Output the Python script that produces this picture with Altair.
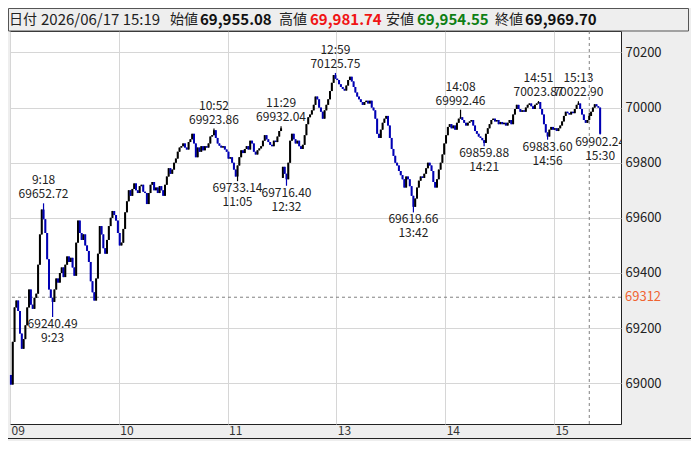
import altair as alt
import pandas as pd

FONT = "Noto Sans CJK JP"
UP_COLOR = "#000000"
DOWN_COLOR = "#0000b4"

# crosshair / header values (15:19 candle)
head_date = "2026/06/17"
head_time = "15:19"
head_open = 69955.08
head_high = 69981.74
head_low = 69954.55
head_close = 69969.70
cross_price = 69312

# session opening prices
am_open = 69030.0
pm_open = 69745.0

# 1-minute closes
closes_09 = [68995, 69150, 69275, 69300, 69262, 69180, 69125, 69160, 69210, 69275,
             69340, 69285, 69270, 69310, 69325, 69430, 69540, 69630, 69595, 69545,
             69450, 69340, 69310, 69295, 69340, 69380, 69365, 69400, 69420, 69385,
             69430, 69460, 69440, 69455, 69420, 69390, 69510, 69590, 69545, 69520,
             69540, 69500, 69480, 69440, 69370, 69330, 69300, 69380, 69470, 69570,
             69540, 69490, 69470, 69520, 69570, 69600, 69625, 69610, 69590, 69545]
closes_10 = [69500, 69510, 69560, 69620, 69660, 69700, 69680, 69705, 69725, 69700,
             69690, 69715, 69720, 69695, 69690, 69650, 69690, 69720, 69730, 69700,
             69710, 69690, 69715, 69700, 69680, 69720, 69750, 69780, 69760, 69775,
             69800, 69815, 69840, 69855, 69860, 69870, 69855, 69848, 69875, 69885,
             69905, 69870, 69820, 69855, 69840, 69860, 69845, 69860, 69855, 69870,
             69895, 69900, 69918, 69890, 69870, 69862, 69855, 69860, 69848, 69840]
closes_11 = [69815, 69820, 69800, 69775, 69750, 69790, 69820, 69845, 69835, 69850,
             69860, 69848, 69880, 69870, 69840, 69830, 69845, 69852, 69860, 69880,
             69900, 69885, 69875, 69865, 69860, 69880, 69875, 69895, 69915, 69925]
closes_12 = [69785, 69760, 69740, 69800, 69880, 69905, 69885, 69870, 69880, 69860,
             69850, 69865, 69900, 69940, 69965, 69975, 69990, 70010, 70040, 70030,
             70000, 69985, 69960, 69990, 70010, 70030, 70060, 70090, 70118, 70105]
closes_13 = [70100, 70085, 70075, 70068, 70062, 70080, 70100, 70112, 70095, 70075,
             70055, 70040, 70030, 70020, 70010, 70020, 70025, 70015, 70025, 70000,
             69990, 69960, 69905, 69890, 69920, 69945, 69960, 69970, 69935, 69890,
             69850, 69825, 69800, 69790, 69770, 69755, 69740, 69710, 69750, 69740,
             69715, 69680, 69640, 69670, 69710, 69735, 69750, 69745, 69760, 69780,
             69800, 69790, 69770, 69730, 69710, 69740, 69775, 69800, 69830, 69870]
closes_14 = [69900, 69930, 69940, 69925, 69935, 69920, 69945, 69960, 69965, 69955,
             69945, 69935, 69945, 69950, 69955, 69935, 69915, 69905, 69895, 69890,
             69882, 69872, 69905, 69925, 69940, 69955, 69960, 69950, 69955, 69940,
             69948, 69940, 69945, 69935, 69945, 69955, 69940, 69975, 69995, 70010,
             69995, 69985, 69990, 69985, 70000, 70010, 70015, 70005, 69995, 70010,
             70015, 70020, 69995, 69975, 69940, 69910, 69895, 69920, 69930, 69920]
closes_15 = [69925, 69915, 69925, 69935, 69950, 69970, 69985, 69980, 69975, 69985,
             69980, 69995, 70010, 70015, 69995, 69975, 69955, 69945, 69955.08, 69969.70,
             69985, 70000, 70012, 70005, 70000]
closes_1530 = [69905]

# labelled session highs / lows
hi_times = ["9:18", "10:52", "11:29", "12:59", "14:08", "14:51", "15:13"]
hi_prices = [69652.72, 69923.86, 69932.04, 70125.75, 69992.46, 70023.87, 70022.90]
lo_times = ["9:23", "11:05", "12:32", "13:42", "14:21", "14:56", "15:30"]
lo_prices = [69240.49, 69733.14, 69716.40, 69619.66, 69859.88, 69883.60, 69902.24]

price_ticks = [69000, 69200, 69400, 69600, 69800, 70000, 70200]
hour_names = ["10:00", "11:00", "13:00", "14:00", "15:00"]
hour_labels = ["09", "10", "11", "13", "14", "15"]


def minutes(h, m, n):
    out = []
    for k in range(n):
        t = h * 60 + m + k
        out.append(f"{t // 60}:{t % 60:02d}")
    return out


am_closes = closes_09 + closes_10 + closes_11
pm_closes = closes_12 + closes_13 + closes_14 + closes_15 + closes_1530
times = minutes(9, 0, len(am_closes)) + minutes(12, 30, len(pm_closes) - 1) + ["15:30"]
closes = am_closes + pm_closes
opens = [am_open] + am_closes[:-1] + [pm_open] + pm_closes[:-1]
highs = [max(o, c) for o, c in zip(opens, closes)]
lows = [min(o, c) for o, c in zip(opens, closes)]
for t, p in zip(hi_times, hi_prices):
    i = times.index(t)
    highs[i] = max(highs[i], p)
for t, p in zip(lo_times, lo_prices):
    i = times.index(t)
    lows[i] = min(lows[i], p)
ci = times.index(head_time)
highs[ci] = max(highs[ci], head_high)
lows[ci] = min(lows[ci], head_low)

candles = pd.DataFrame({
    "idx": list(range(len(times))),
    "time": times,
    "open": opens,
    "close": closes,
    "low": lows,
    "high": highs,
})
candles["color"] = [UP_COLOR if c >= o else DOWN_COLOR for o, c in zip(opens, closes)]

hi_df = pd.DataFrame({
    "idx": [times.index(t) for t in hi_times],
    "price": hi_prices,
    "ptxt": [f"{p:.2f}" for p in hi_prices],
    "ttxt": hi_times,
})
lo_df = pd.DataFrame({
    "idx": [times.index(t) for t in lo_times],
    "price": lo_prices,
    "ptxt": [f"{p:.2f}" for p in lo_prices],
    "ttxt": lo_times,
})

hour_ticks = [-0.5] + [times.index(h) - 0.5 for h in hour_names]
label_expr = "".join(f"datum.value == {t} ? '{l}' : " for t, l in zip(hour_ticks, hour_labels)) + "''"

W, H = 611, 393
PAD_L, PAD_T, PAD_R, PAD_B = 2, 23, 70, 17

x_scale = alt.Scale(domain=[-0.5, 336.5], nice=False, zero=False)
y_scale = alt.Scale(domain=[68852, 70278], nice=False, zero=False)

x_axis = alt.Axis(
    values=hour_ticks, labelExpr=label_expr, title=None, grid=True, gridColor="#d6d6d6",
    domain=False, ticks=False, labelAlign="left", labelBaseline="top", labelPadding=1,
    labelOffset=1, labelFont=FONT, labelFontSize=12, labelColor="#333333", labelFlush=False,
)
y_axis = alt.Axis(
    orient="right", values=price_ticks, format="d", title=None, grid=True, gridColor="#d6d6d6",
    domain=False, ticks=False, labelPadding=4, labelFont=FONT, labelFontSize=13,
    labelColor="#222222",
)


def X(field="idx:Q"):
    return alt.X(field, scale=x_scale, axis=x_axis)


def Y(field):
    return alt.Y(field, scale=y_scale, axis=y_axis)


one = pd.DataFrame({"k": [0]})

h_cross = alt.Chart(pd.DataFrame({"p": [cross_price]})).mark_rule(
    color="#808080", strokeDash=[3, 3], strokeWidth=1
).encode(y=Y("p:Q"))

v_cross = alt.Chart(pd.DataFrame({"idx": [times.index(head_time)]})).mark_rule(
    color="#808080", strokeDash=[3, 3], strokeWidth=1
).encode(x=X())

wick = alt.Chart(candles).mark_rule(strokeWidth=1.2).encode(
    x=X(), y=Y("low:Q"), y2="high:Q",
    color=alt.Color("color:N", scale=None, legend=None),
)
body = alt.Chart(candles).mark_rule(strokeWidth=2).encode(
    x=X(), y=Y("open:Q"), y2="close:Q",
    color=alt.Color("color:N", scale=None, legend=None),
)

ann = dict(font=FONT, fontSize=12, color="#222222", align="center", clip=True)
hi_p = alt.Chart(hi_df).mark_text(baseline="bottom", dy=-2, **ann).encode(x=X(), y=Y("price:Q"), text="ptxt:N")
hi_t = alt.Chart(hi_df).mark_text(baseline="bottom", dy=-16, **ann).encode(x=X(), y=Y("price:Q"), text="ttxt:N")
lo_p = alt.Chart(lo_df).mark_text(baseline="top", dy=2, **ann).encode(x=X(), y=Y("price:Q"), text="ptxt:N")
lo_t = alt.Chart(lo_df).mark_text(baseline="top", dy=16, **ann).encode(x=X(), y=Y("price:Q"), text="ttxt:N")

cross_label = alt.Chart(pd.DataFrame({"p": [cross_price], "t": [str(cross_price)]})).mark_text(
    font=FONT, fontSize=13, color="#f06432", align="left", baseline="middle"
).encode(x=alt.value(W + 4), y=Y("p:Q"), text="t:N")

# header bar and bottom band border
head_box = alt.Chart(one).mark_rect(fillOpacity=0, stroke="#555555", strokeWidth=1).encode(
    x=alt.value(-PAD_L + 0.5), x2=alt.value(W + PAD_R - PAD_L - 0.5),
    y=alt.value(-PAD_T + 0.5), y2=alt.value(0),
)
band_line = alt.Chart(one).mark_rule(color="#222222", strokeWidth=1).encode(
    x=alt.value(-PAD_L), x2=alt.value(W + PAD_R), y=alt.value(H + 14.5)
)

head_items = [
    ("日付", -1, "normal", "#222222", 14),
    (f"{head_date} {head_time}", 31, "normal", "#222222", 15),
    ("始値", 160, "normal", "#222222", 14),
    (f"{head_open:,.2f}", 190, "bold", "#111111", 15),
    ("高値", 269, "normal", "#222222", 14),
    (f"{head_high:,.2f}", 300, "bold", "#f01414", 15),
    ("安値", 376, "normal", "#222222", 14),
    (f"{head_low:,.2f}", 407, "bold", "#0f7f14", 15),
    ("終値", 485, "normal", "#222222", 14),
    (f"{head_close:,.2f}", 515, "bold", "#111111", 15),
]
head_layers = [
    alt.Chart(one).mark_text(
        text=txt, font=FONT, fontSize=fs, fontWeight=fw, color=col, align="left", baseline="middle"
    ).encode(x=alt.value(xp), y=alt.value(-11))
    for txt, xp, fw, col, fs in head_items
]

chart = alt.layer(
    h_cross, v_cross, wick, body, hi_p, hi_t, lo_p, lo_t, cross_label,
    head_box, band_line, *head_layers,
).properties(
    width=W, height=H,
    autosize=alt.AutoSizeParams(type="none"),
    padding={"left": PAD_L, "top": PAD_T, "right": PAD_R, "bottom": PAD_B},
).configure(background="#eeeeee").configure_view(fill="white", stroke="#222222", strokeWidth=1)

chart.save("out.html", embed_options={"renderer": "svg", "actions": False})
